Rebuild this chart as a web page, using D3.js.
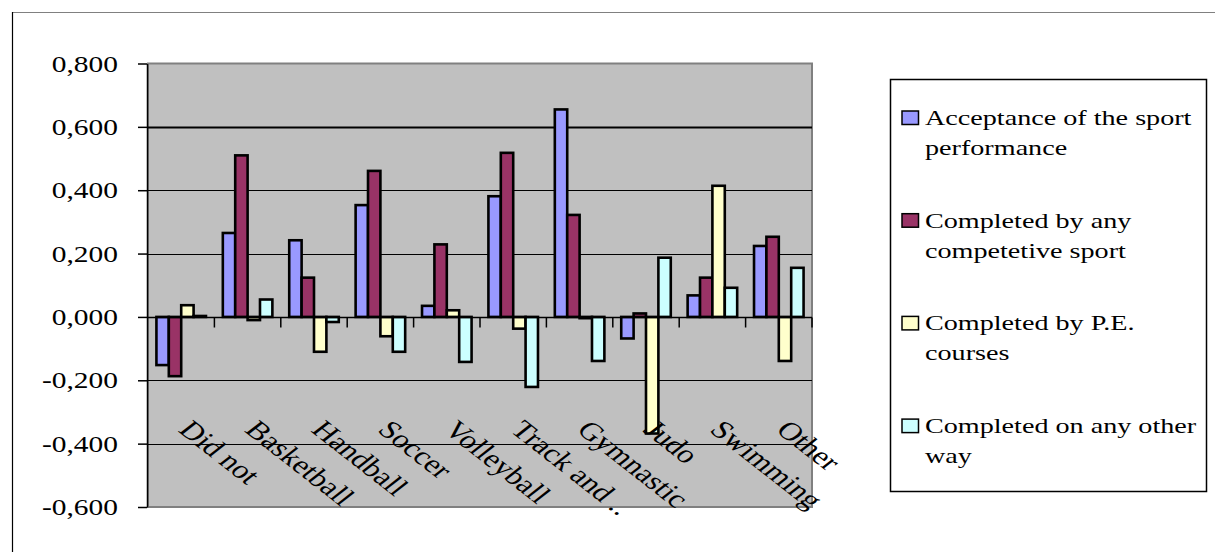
<!DOCTYPE html>
<html>
<head>
<meta charset="utf-8">
<script src="https://cdn.jsdelivr.net/npm/d3@7"></script>
<style>
  html, body { margin: 0; padding: 0; background: #fff; }
  svg { display: block; }
  text { font-family: "Liberation Serif", "Times New Roman", serif; fill: #000; }
</style>
</head>
<body>
<svg id="chart" width="1215" height="552"></svg>
<script>
// Categories (sports) and the four correlation series
const categories = ["Did not", "Basketball", "Handball", "Soccer", "Volleyball",
                    "Track and ..", "Gymnastic", "Judo", "Swimming", "Other"];
const seriesNames = ["Acceptance of the sport performance",
                     "Completed by any competetive sport",
                     "Completed by P.E. courses",
                     "Completed on any other way"];
const legendLines = [["Acceptance of the sport", "performance"],
                     ["Completed by any", "competetive sport"],
                     ["Completed by P.E.", "courses"],
                     ["Completed on any other", "way"]];
const acceptance  = [-0.152, 0.265, 0.242, 0.353, 0.035, 0.381, 0.655, -0.068, 0.068, 0.224];
const competitive = [-0.187, 0.510, 0.124, 0.461, 0.229, 0.518, 0.322, 0.011, 0.124, 0.253];
const peCourses   = [0.037, -0.010, -0.110, -0.061, 0.021, -0.037, -0.004, -0.368, 0.414, -0.139];
const otherWay    = [0.003, 0.055, -0.016, -0.110, -0.142, -0.221, -0.139, 0.187, 0.092, 0.155];
const yTicks = [-0.6, -0.4, -0.2, 0, 0.2, 0.4, 0.6, 0.8];
const colors = ["#9999FF", "#993366", "#FFFFCC", "#CCFFFF"];

const seriesValues = [acceptance, competitive, peCourses, otherWay];
const rows = categories.map((c, i) => ({
  category: c,
  values: seriesNames.map((s, k) => ({ key: s, value: seriesValues[k][i], color: colors[k] }))
}));

const svg = d3.select("#chart");
const SX = 1.28; // horizontal widening of the serif glyphs
const plot = { left: 148, right: 812, top: 63.5, bottom: 507 };

const y = d3.scaleLinear().domain([-0.6, 0.8]).range([plot.bottom, plot.top]);
const x0 = d3.scaleBand().domain(categories).range([plot.left, plot.right]).padding(0);
const x1 = d3.scaleBand().domain(seriesNames).range([0, x0.bandwidth()])
  .paddingInner(0).paddingOuter(0.68);

const locale = d3.formatLocale({ decimal: ",", thousands: ".", grouping: [3],
                                 currency: ["", ""], minus: "-" });
const fmt = locale.format(".3f");

// Outer chart frame
svg.append("line").attr("x1", 12).attr("x2", 1215).attr("y1", 12.5).attr("y2", 12.5)
  .attr("stroke", "#808080").attr("stroke-width", 1.2);
svg.append("line").attr("x1", 12.5).attr("x2", 12.5).attr("y1", 12).attr("y2", 552)
  .attr("stroke", "#000").attr("stroke-width", 1.2);

// Plot area
svg.append("rect")
  .attr("x", plot.left).attr("y", plot.top)
  .attr("width", plot.right - plot.left).attr("height", plot.bottom - plot.top)
  .attr("fill", "#C0C0C0").attr("stroke", "#808080").attr("stroke-width", 2);

// Horizontal gridlines
svg.append("g").selectAll("line")
  .data(yTicks.filter(t => t !== 0 && t !== -0.6 && t !== 0.8))
  .join("line")
  .attr("x1", plot.left).attr("x2", plot.right)
  .attr("y1", d => Math.round(y(d)) + 0.5).attr("y2", d => Math.round(y(d)) + 0.5)
  .attr("stroke", "#000")
  .attr("stroke-width", d => d === 0.6 ? 2 : 1.2);

// Y axis
const yAxis = svg.append("g")
  .attr("transform", `translate(${plot.left - 1},0)`)
  .call(d3.axisLeft(y).tickValues(yTicks).tickSize(9).tickSizeOuter(0).tickFormat(fmt));
yAxis.select(".domain").attr("stroke", "#000").attr("stroke-width", 1.5);
yAxis.selectAll(".tick line").attr("stroke", "#000").attr("stroke-width", 1.5);
yAxis.selectAll(".tick text")
  .attr("x", null).attr("dy", null)
  .attr("text-anchor", "end")
  .attr("font-size", 23)
  .attr("transform", `translate(-29,7.5) scale(${SX},1)`);

// Bars
const groups = svg.append("g").selectAll("g")
  .data(rows).join("g")
  .attr("transform", d => `translate(${x0(d.category)},0)`);
groups.selectAll("rect")
  .data(d => d.values).join("rect")
  .attr("x", d => x1(d.key))
  .attr("width", x1.bandwidth())
  .attr("y", d => Math.min(y(d.value), y(0)))
  .attr("height", d => Math.max(Math.abs(y(d.value) - y(0)), 0.5))
  .attr("fill", d => d.color)
  .attr("stroke", "#000").attr("stroke-width", 2.6);

// Category axis along zero with ticks between categories
const zeroY = Math.round(y(0)) + 0.5;
svg.append("line").attr("x1", plot.left).attr("x2", plot.right)
  .attr("y1", zeroY).attr("y2", zeroY).attr("stroke", "#000").attr("stroke-width", 1.5);
svg.append("g").selectAll("line")
  .data(categories.slice(1).concat([null]))
  .join("line")
  .attr("x1", d => d === null ? plot.right : x0(d))
  .attr("x2", d => d === null ? plot.right : x0(d))
  .attr("y1", zeroY).attr("y2", zeroY + 10)
  .attr("stroke", "#000").attr("stroke-width", 1.5);

// Rotated category labels
svg.append("g").selectAll("text")
  .data(categories).join("text")
  .attr("font-size", 25.5)
  .attr("transform", d => `translate(${x0(d) + x0.bandwidth() / 2 - 4},431) scale(${SX},1) rotate(45)`)
  .text(d => d);

// Legend
const legend = svg.append("g");
legend.append("rect")
  .attr("x", 890.5).attr("y", 79.5).attr("width", 316).attr("height", 412)
  .attr("fill", "#fff").attr("stroke", "#000").attr("stroke-width", 1.5);
const items = legend.selectAll("g.item")
  .data(seriesNames).join("g").attr("class", "item")
  .attr("transform", (d, i) => `translate(0,${125 + i * 102.7})`);
items.append("rect")
  .attr("x", 902).attr("y", -14).attr("width", 16.5).attr("height", 13.5)
  .attr("fill", (d, i) => colors[i]).attr("stroke", "#000").attr("stroke-width", 1.5);
items.each(function (d, i) {
  d3.select(this).selectAll("text")
    .data(legendLines[i]).join("text")
    .attr("font-size", 22)
    .attr("transform", (t, j) => `translate(925,${j * 30}) scale(${SX},1)`)
    .text(t => t);
});
</script>
</body>
</html>
